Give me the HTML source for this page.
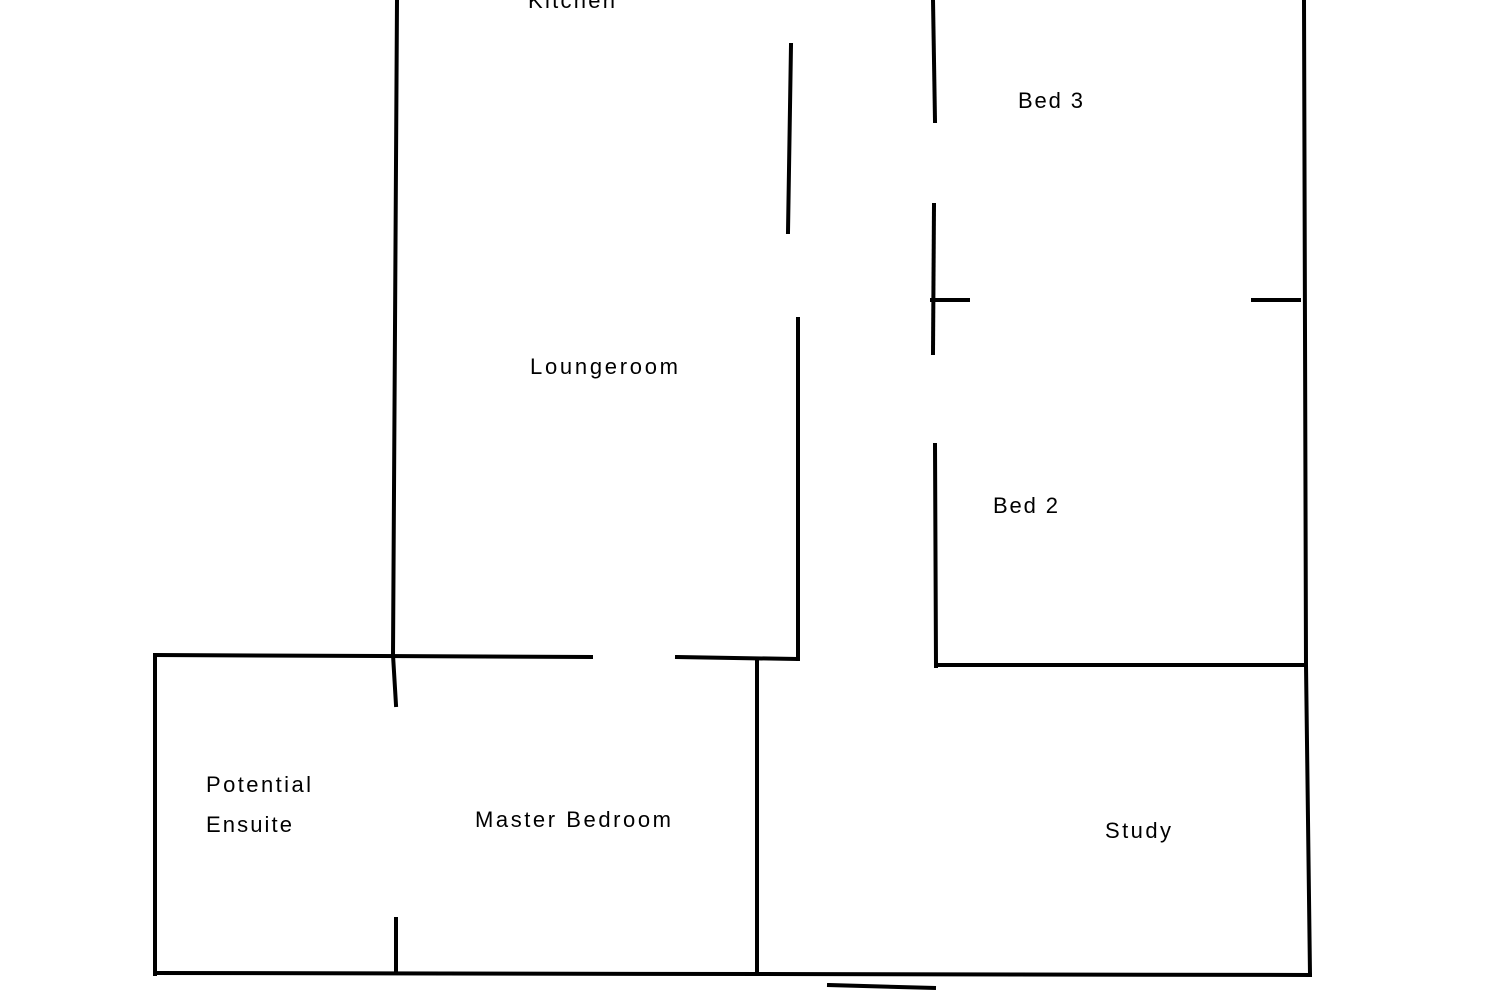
<!DOCTYPE html>
<html><head><meta charset="utf-8"><style>
html,body{margin:0;padding:0;background:#fff;width:1500px;height:1000px;overflow:hidden}
text{font-family:"Liberation Sans",sans-serif;font-size:22px;fill:#000}
</style></head><body>
<svg width="1500" height="1000" viewBox="0 0 1500 1000" xmlns="http://www.w3.org/2000/svg">
<g stroke="#000" stroke-width="4" fill="none" stroke-linecap="square">
<polyline points="397,0 393,655 396,705"/>
<line x1="791" y1="45" x2="788" y2="232"/>
<line x1="798" y1="319" x2="798" y2="659"/>
<line x1="933" y1="0" x2="935" y2="121"/>
<line x1="934" y1="205" x2="933" y2="353"/>
<line x1="932" y1="300" x2="968" y2="300"/>
<line x1="1253" y1="300" x2="1299" y2="300"/>
<polyline points="1304,0 1306,665 1310,975"/>
<line x1="935" y1="445" x2="936" y2="666"/>
<line x1="936" y1="665" x2="1306" y2="665"/>
<line x1="155" y1="655" x2="591" y2="657"/>
<line x1="677" y1="657" x2="796" y2="659"/>
<line x1="757" y1="660" x2="757" y2="974"/>
<line x1="155" y1="655" x2="155" y2="974"/>
<line x1="155" y1="973" x2="1310" y2="975"/>
<line x1="396" y1="919" x2="396" y2="972"/>
<line x1="829" y1="985" x2="934" y2="988"/>
</g>
<text x="528" y="8" textLength="87" lengthAdjust="spacing">Kitchen</text>
<text x="1018" y="108" textLength="65" lengthAdjust="spacing">Bed 3</text>
<text x="530" y="374" textLength="148" lengthAdjust="spacing">Loungeroom</text>
<text x="993" y="513" textLength="65" lengthAdjust="spacing">Bed 2</text>
<text x="206" y="792" textLength="105" lengthAdjust="spacing">Potential</text>
<text x="206" y="832" textLength="86" lengthAdjust="spacing">Ensuite</text>
<text x="475" y="827" textLength="196" lengthAdjust="spacing">Master Bedroom</text>
<text x="1105" y="838" textLength="66" lengthAdjust="spacing">Study</text>
</svg>
</body></html>
